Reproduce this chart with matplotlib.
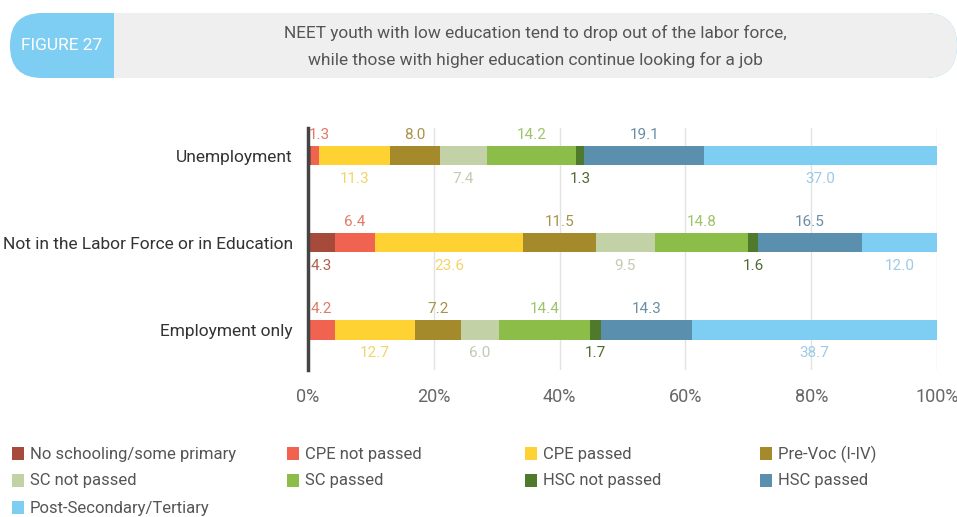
import matplotlib.pyplot as plt
from matplotlib.patches import FancyBboxPatch, Rectangle
import numpy as np

plt.rcParams['font.family'] = ['Roboto', 'DejaVu Sans']

# --- DATA ---
categories = ['Unemployment', 'Not in the Labor Force or in Education', 'Employment only']
levels = ['No schooling/some primary', 'CPE not passed', 'CPE passed', 'Pre-Voc (I-IV)',
          'SC not passed', 'SC passed', 'HSC not passed', 'HSC passed', 'Post-Secondary/Tertiary']
unemployment = [0.4, 1.3, 11.3, 8.0, 7.4, 14.2, 1.3, 19.1, 37.0]
not_in_lf = [4.3, 6.4, 23.6, 11.5, 9.5, 14.8, 1.6, 16.5, 12.0]
employment = [0.0, 4.2, 12.7, 7.2, 6.0, 14.4, 1.7, 14.3, 38.7]
# which values carry a label (the tiny unlabelled slivers are skipped)
show_label = [
    [False, True, True, True, True, True, True, True, True],
    [True, True, True, True, True, True, True, True, True],
    [False, True, True, True, True, True, True, True, True],
]
tick_vals = [0, 20, 40, 60, 80, 100]

colors = ['#a64a3b', '#ef6350', '#fdd232', '#a58a2b', '#c3d1a6',
          '#8bbd48', '#4f7a2c', '#5a8fae', '#7ecdf2']
label_colors = ['#b0614f', '#e27a66', '#f4d36a', '#a8924a', '#c2cbb0',
                '#9cc46a', '#4f6a35', '#6a8ea6', '#9ccbe6']

rows = [unemployment, not_in_lf, employment]
ypos = [2, 1, 0]

fig = plt.figure(figsize=(9.57, 5.17), dpi=100)

# header pill
bg = fig.add_axes([0, 0, 1, 1], zorder=0)
bg.set_xlim(0, 957)
bg.set_ylim(517, 0)
bg.axis('off')
bg.add_patch(FancyBboxPatch((10, 13), 947, 65, boxstyle="round,pad=0,rounding_size=32",
                            fc='#7ecdf2', ec='none'))
bg.add_patch(Rectangle((114, 13), 780, 65, fc='#efefef', ec='none'))
bg.add_patch(FancyBboxPatch((800, 13), 157, 65, boxstyle="round,pad=0,rounding_size=32",
                            fc='#efefef', ec='none'))
bg.text(62, 46, 'FIGURE 27', color='white', fontsize=12.5, ha='center', va='center')
bg.text(535, 33, 'NEET youth with low education tend to drop out of the labor force,',
        color='#555555', fontsize=12.4, ha='center', va='center')
bg.text(535, 60, 'while those with higher education continue looking for a job',
        color='#555555', fontsize=12.4, ha='center', va='center')

# main chart
ax = fig.add_axes([308 / 957, 1 - 370 / 517, 629 / 957, 242 / 517], zorder=1)
ax.set_xlim(0, 100)
ax.set_ylim(-0.46, 2.32)
bar_h = 0.22

for r, (vals, y) in enumerate(zip(rows, ypos)):
    vals = np.array(vals)
    shares = vals / vals.sum() * 100
    left = 0.0
    for i, (v, s) in enumerate(zip(vals, shares)):
        ax.barh(y, s, left=left, height=bar_h, color=colors[i], edgecolor='none', zorder=3)
        if show_label[r][i]:
            above = (i % 2 == 1)
            # keep labels of slivers at the start clear of the axis line
            cx = max(left + s / 2, 1.8)
            ax.annotate(f'{v:.1f}', (cx, y + (bar_h / 2 if above else -bar_h / 2)),
                        xytext=(0, 8 if above else -10), textcoords='offset points',
                        ha='center', va='center', fontsize=11, color=label_colors[i],
                        zorder=6)
        left += s

ax.set_yticks(ypos)
ax.set_yticklabels(categories, fontsize=12.5, color='#333333')
ax.set_xticks(tick_vals)
ax.set_xticklabels([f'{t}%' for t in tick_vals], fontsize=13, color='#666666')
ax.tick_params(axis='both', length=0)
ax.tick_params(axis='x', pad=13)
ax.tick_params(axis='y', pad=11)
ax.grid(axis='x', color='#e2e2e2', linewidth=1, zorder=0)
for side in ['top', 'right', 'bottom']:
    ax.spines[side].set_visible(False)
ax.spines['left'].set_color('#444444')
ax.spines['left'].set_linewidth(2.5)
ax.spines['left'].set_zorder(4)
ax.patch.set_alpha(0)

# legend in four columns
leg_x = [12, 287, 525, 760]
leg_y = [454, 481, 508]
for i, (name, c) in enumerate(zip(levels, colors)):
    x = leg_x[i % 4]
    y = leg_y[i // 4]
    bg.add_patch(Rectangle((x, y - 7), 12, 13, fc=c, ec='none'))
    bg.text(x + 18, y, name, fontsize=12, color='#555555', ha='left', va='center')

fig.savefig('out.png', dpi=100)
